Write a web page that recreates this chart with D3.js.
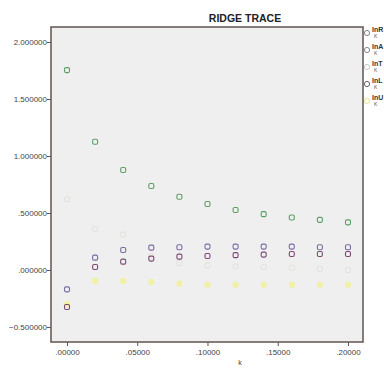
<!DOCTYPE html>
<html>
<head>
<meta charset="utf-8">
<script src="https://cdn.jsdelivr.net/npm/d3@7"></script>
<style>
  body { margin: 0; background: #fff; }
  svg { font-family: 'Liberation Sans', Arial, sans-serif; }
</style>
</head>
<body>
<script>
// ridge parameter k
const kValues = [0, 0.02, 0.04, 0.06, 0.08, 0.10, 0.12, 0.14, 0.16, 0.18, 0.20];

// coefficient traces
const seriesNames = ['lnR', 'lnA', 'lnT', 'lnL', 'lnU'];
const greenTrace = [1.754, 1.125, 0.877, 0.737, 0.643, 0.579, 0.526, 0.49, 0.46, 0.44, 0.418];
const upperTrace = [-0.17, 0.108, 0.175, 0.196, 0.2, 0.205, 0.205, 0.205, 0.205, 0.2, 0.2];
const lowerTrace = [-0.325, 0.026, 0.073, 0.1, 0.117, 0.123, 0.13, 0.135, 0.14, 0.14, 0.14];
const yellowTrace = [-0.3, -0.096, -0.096, -0.105, -0.12, -0.13, -0.13, -0.13, -0.13, -0.13, -0.13];
const greyTrace = [0.62, 0.36, 0.31, 0.12, 0.06, 0.04, 0.03, 0.026, 0.02, 0.01, 0.0];

const yTicks = [2.0, 1.5, 1.0, 0.5, 0.0, -0.5];
const xTicks = [0, 0.05, 0.10, 0.15, 0.20];

const traces = [
  { name: seriesNames[0], values: greyTrace, color: '#e2e3dc', legend: '#8a8490' },
  { name: seriesNames[1], values: yellowTrace, color: '#f0f0a8', legend: '#8a8490' },
  { name: seriesNames[2], values: greenTrace, color: '#5a9e6a', legend: '#c8c8c8' },
  { name: seriesNames[3], values: upperTrace, color: '#7a6aa0', legend: '#6a6070' },
  { name: seriesNames[4], values: lowerTrace, color: '#7a4a72', legend: '#e6e4a0' }
];

const MARGIN = { top: 27, right: 21, bottom: 26, left: 51 };
const W = 384, H = 368;
const plotW = W - MARGIN.left - MARGIN.right;
const plotH = H - MARGIN.top - MARGIN.bottom;

const svg = d3.select('body').append('svg').attr('width', W).attr('height', H);

const x = d3.scaleLinear().domain([-0.0114, 0.2107]).range([0, plotW]);
const y = d3.scaleLinear().domain([-0.632, 2.132]).range([plotH, 0]);

const g = svg.append('g')
  .attr('transform', 'translate(' + MARGIN.left + ',' + MARGIN.top + ')');

// plot background
g.append('rect')
  .attr('width', plotW)
  .attr('height', plotH)
  .attr('fill', '#efefef');

// axes
const fmtY = (d) => d3.format('.6f')(d).replace(/^(-?)0\./, '$1.');
const fmtX = (d) => d3.format('.5f')(d).replace(/^0\./, '.');

const yAxis = g.append('g')
  .call(d3.axisLeft(y).tickValues(yTicks).tickSize(4).tickFormat(fmtY));
const xAxis = g.append('g')
  .attr('transform', 'translate(0,' + plotH + ')')
  .call(d3.axisBottom(x).tickValues(xTicks).tickSize(4).tickFormat(fmtX));

[yAxis, xAxis].forEach((a) => {
  a.select('.domain').remove();
  a.selectAll('line').attr('stroke', '#5a5050');
  a.selectAll('text').attr('fill', '#444').style('font-size', '8px');
});
yAxis.selectAll('text').attr('x', -4).attr('dy', '0.32em');
xAxis.selectAll('text').attr('y', 7);

// frame
g.append('rect')
  .attr('width', plotW)
  .attr('height', plotH)
  .attr('fill', 'none')
  .attr('stroke', '#6a5e5c')
  .attr('stroke-width', 1.6);

// markers
traces.forEach((t) => {
  g.selectAll(null)
    .data(t.values)
    .join('rect')
    .attr('x', (d, i) => x(kValues[i]) - 2.5)
    .attr('y', (d) => y(d) - 2.5)
    .attr('width', 5)
    .attr('height', 5)
    .attr('rx', 1.5)
    .attr('fill', t.name === 'lnA' ? t.color : 'none')
    .attr('stroke', t.color)
    .attr('stroke-width', 1.1);
});

// title
svg.append('text')
  .attr('x', 245)
  .attr('y', 22)
  .attr('text-anchor', 'middle')
  .style('font-size', '10.5px')
  .style('font-weight', 'bold')
  .attr('fill', '#222')
  .text('RIDGE TRACE');

// x axis label
svg.append('text')
  .attr('x', 240)
  .attr('y', 365)
  .attr('text-anchor', 'middle')
  .style('font-size', '7px')
  .attr('fill', '#444')
  .text('k');

// legend
const legend = svg.append('g').attr('transform', 'translate(367,0)');
const legendY = [33, 50, 67, 84, 101];
traces.forEach((t, i) => {
  const row = legend.append('g').attr('transform', 'translate(0,' + legendY[i] + ')');
  row.append('circle')
    .attr('r', 2.6)
    .attr('fill', 'none')
    .attr('stroke', t.legend)
    .attr('stroke-width', 1);
  row.append('text')
    .attr('x', 5)
    .attr('y', -1)
    .style('font-size', '7px')
    .style('font-weight', 'bold')
    .attr('fill', '#333')
    .text(t.name);
  row.append('text')
    .attr('x', 7)
    .attr('y', 5)
    .style('font-size', '5px')
    .attr('fill', '#555')
    .text('K');
});
</script>
</body>
</html>
